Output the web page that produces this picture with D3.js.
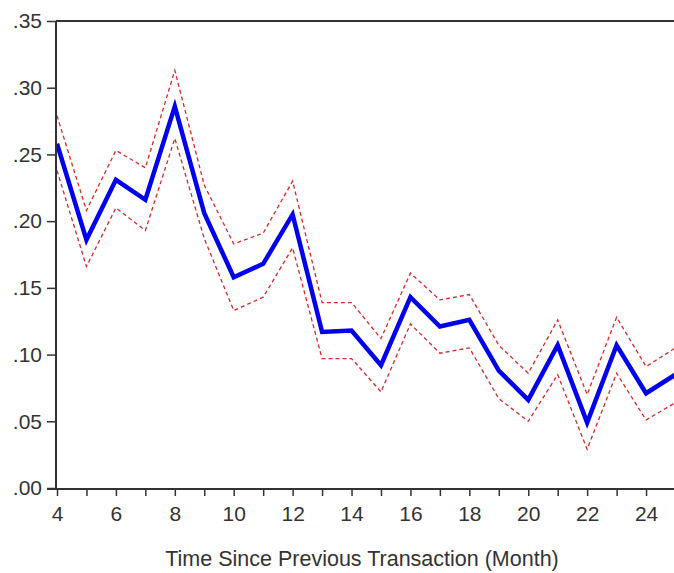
<!DOCTYPE html>
<html><head><meta charset="utf-8">
<script src="https://cdn.jsdelivr.net/npm/d3@7"></script>
<style>html,body{margin:0;padding:0;background:#fff;overflow:hidden}svg{display:block}</style>
</head><body>
<svg id="chart" width="674" height="573"></svg>
<script>
const months = [4,5,6,7,8,9,10,11,12,13,14,15,16,17,18,19,20,21,22,23,24,25];
const estimate = [.258,.186,.231,.216,.286,.206,.158,.168,.205,.117,.118,.092,.143,.121,.126,.088,.066,.107,.049,.107,.071,.085];
const upper    = [.279,.208,.253,.240,.313,.227,.183,.191,.230,.139,.139,.112,.161,.141,.145,.107,.086,.126,.070,.128,.091,.105];
const lower    = [.238,.166,.210,.193,.262,.187,.133,.143,.180,.097,.097,.072,.123,.101,.105,.067,.050,.085,.029,.086,.051,.064];
const yTicks = [0,.05,.10,.15,.20,.25,.30,.35];
const xTicks = [4,5,6,7,8,9,10,11,12,13,14,15,16,17,18,19,20,21,22,23,24];
const xTitle = "Time Since Previous Transaction (Month)";

const svg = d3.select("#chart");
const x = d3.scaleLinear().domain([4,25]).range([57,675.5]);
const y = d3.scaleLinear().domain([0,.35]).range([488,21]);
const axisColor = "#333";
const font = "'Liberation Sans', Arial, sans-serif";

const line = d3.line().x((d,i)=>x(months[i])).y(d=>y(d));

const g = svg.append("g");
g.append("path").datum(upper).attr("d",line).attr("fill","none")
  .attr("stroke","#d42a2a").attr("stroke-width",1.3).attr("stroke-dasharray","4,3");
g.append("path").datum(lower).attr("d",line).attr("fill","none")
  .attr("stroke","#d42a2a").attr("stroke-width",1.3).attr("stroke-dasharray","4,3");
g.append("path").datum(estimate).attr("d",line).attr("fill","none")
  .attr("stroke","#0000ee").attr("stroke-width",4.5).attr("stroke-linejoin","miter");

// top frame line
svg.append("line").attr("x1",56).attr("x2",674).attr("y1",y(.35)).attr("y2",y(.35))
  .attr("stroke",axisColor).attr("stroke-width",2);

// y axis
const yAxis = d3.axisLeft(y).tickValues(yTicks).tickSize(9).tickPadding(5)
  .tickFormat(d=>d3.format(".2f")(d).replace(/^0/,""));
const ya = svg.append("g").attr("transform","translate(56,0)").call(yAxis);
ya.select(".domain").attr("stroke",axisColor).attr("stroke-width",2).attr("d","M0,"+y(.35)+"V489");
ya.selectAll(".tick line").attr("stroke",axisColor).attr("stroke-width",1.5);
ya.selectAll(".tick text").attr("fill","#333").style("font-family",font).style("font-size","21px");

// x axis
const xAxis = d3.axisBottom(x).tickValues(xTicks).tickSize(7).tickPadding(10)
  .tickFormat(d=> d%2===0 ? d : "");
const xa = svg.append("g").attr("transform","translate(0,489)").call(xAxis);
xa.select(".domain").attr("stroke",axisColor).attr("stroke-width",2).attr("d","M"+47+",0H674");
xa.selectAll(".tick line").attr("stroke",axisColor).attr("stroke-width",1.5);
xa.selectAll(".tick text").attr("fill","#333").style("font-family",font).style("font-size","21px");

svg.append("text").attr("x",362).attr("y",566).attr("text-anchor","middle")
  .attr("fill","#333").style("font-family",font).style("font-size","21.5px").text(xTitle);
</script>
</body></html>
